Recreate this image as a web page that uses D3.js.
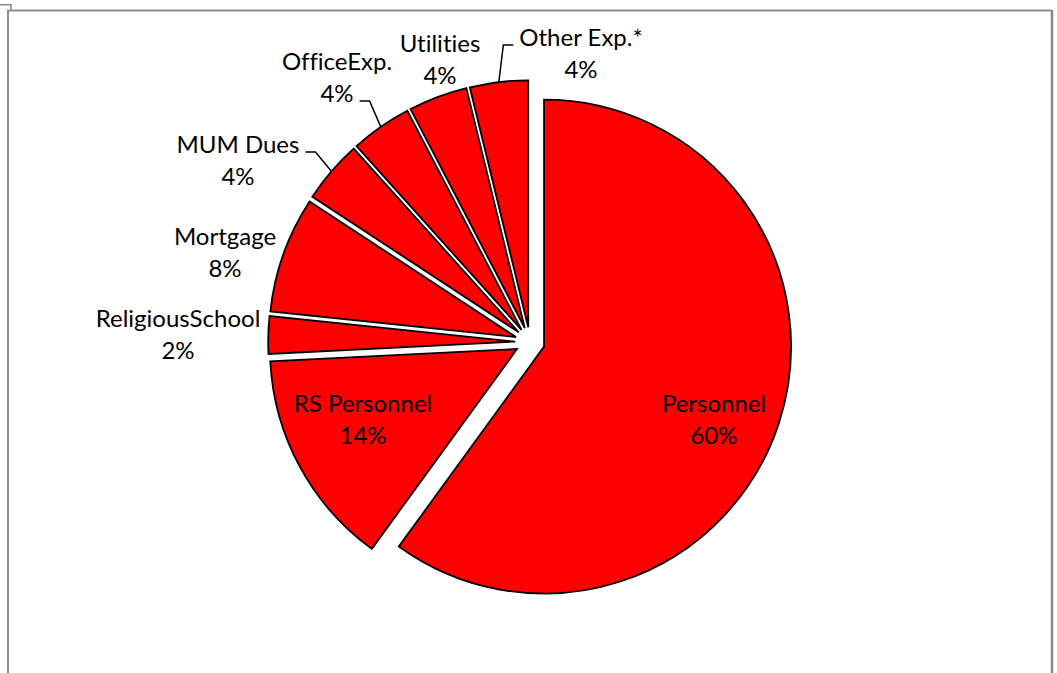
<!DOCTYPE html>
<html>
<style type="text/css">
body{ margin:0; background:#fff; }
text{
	font-family: Lato, "Open Sans", sans-serif;
	font-size: 24px;
	font-variant-ligatures: none;
	font-feature-settings: "liga" 0, "clig" 0;
	fill: #000;
}
</style>
<head>
</head>
<body>
  <script src="https://d3js.org/d3.v7.min.js"></script>
  <script>
    // chart data
    var categories = ["Personnel", "RS Personnel", "ReligiousSchool", "Mortgage",
                      "MUM Dues", "OfficeExp.", "Utilities", "Other Exp.*"];
    var values = [60.0, 14.2, 2.45, 7.6, 4.1, 4.0, 3.85, 3.8];

    //layout
    var width = 1057, height = 673;
    var cx = 530, cy = 342;   // pie centre
    var radius = 247;
    var explode = 14.8;
    var lineGap = 32;

    // label anchor (centre x, first baseline) relative to pie centre
    var labelOffsets = [[184, 70], [-167, 70], [-352, -15], [-305, -97],
                        [-292, -189], [-193, -272], [-90, -290], [51, -296]];
    // which labels get a leader line, from which line and side of the text
    var leaders = [null, null, null, null,
                   {line: 0, side: "right"}, {line: 1, side: "right"}, null, {line: 0, side: "left"}];

    var svg = d3.select("body").append("svg")
        .attr("width", width)
        .attr("height", height);

    // outer frame (cut off at bottom)
    var frame = svg.append("g")
        .attr("fill", "none")
        .attr("stroke", "#8c8c8c");
    frame.append("path")
        .attr("stroke-width", 2)
        .attr("d", "M8,673 L8,10.5 L1052,10.5");
    frame.append("path")
        .attr("stroke-width", 2.6)
        .attr("d", "M1052,10 L1052,673");
    frame.append("path")
        .attr("stroke-width", 1.6)
        .attr("d", "M0,4.8 L11,4.8 L11,10");

    var pie = d3.pie().sort(null).value(function(d){ return d; });
    var arcs = pie(values);

    var arc = d3.arc().innerRadius(0).outerRadius(radius);
    var rimArc = d3.arc().innerRadius(radius).outerRadius(radius);

    function midAngle(d){ return (d.startAngle + d.endAngle) / 2; }
    function shift(d){
      var a = midAngle(d);
      return [explode * Math.sin(a), -explode * Math.cos(a)];
    }

    var g = svg.append("g")
        .attr("transform", "translate(" + cx + "," + cy + ")");

    g.selectAll("path.slice")
        .data(arcs)
      .enter().append("path")
        .attr("class", "slice")
        .attr("d", arc)
        .attr("transform", function(d){
          var s = shift(d);
          return "translate(" + s[0] + "," + s[1] + ")";
        })
        .attr("fill", "#ff0000")
        .attr("stroke", "#000")
        .attr("stroke-width", 1.8)
        .attr("stroke-linejoin", "miter");

    // labels
    var labels = g.selectAll("text.lbl")
        .data(arcs)
      .enter().append("text")
        .attr("class", "lbl")
        .attr("text-anchor", "middle");

    labels.each(function(d, i){
      var t = d3.select(this);
      var pct = Math.round(d.value / d3.sum(values) * 100) + "%";
      var lines = [categories[i], pct];
      lines.forEach(function(s, k){
        t.append("tspan")
          .attr("x", labelOffsets[i][0])
          .attr("y", labelOffsets[i][1] + k * lineGap)
          .text(s);
      });
    });

    // leader lines: rim point at mid angle -> elbow -> text side
    labels.each(function(d, i){
      var L = leaders[i];
      if (!L) return;
      var tsp = d3.select(this).selectAll("tspan").nodes()[L.line];
      var w = tsp.getComputedTextLength();
      var s = shift(d);
      var rim = rimArc.centroid(d);
      var p0 = [rim[0] + s[0], rim[1] + s[1]];
      var y = labelOffsets[i][1] + L.line * lineGap - 1;
      var dir = L.side == "right" ? 1 : -1;
      var xEnd = labelOffsets[i][0] + dir * (w / 2 + 6);
      var xElbow = xEnd + dir * 10;
      g.append("path")
        .attr("fill", "none")
        .attr("stroke", "#000")
        .attr("stroke-width", 1.5)
        .attr("d", "M" + p0[0] + "," + p0[1] + " L" + xElbow + "," + y + " L" + xEnd + "," + y);
    });
  </script>
</body>
</html>
